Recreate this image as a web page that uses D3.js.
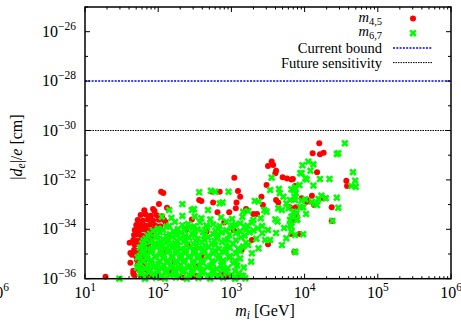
<!DOCTYPE html>
<html>
<head>
<meta charset="utf-8">
<script src="https://cdn.jsdelivr.net/npm/d3@7"></script>
<style>
  body { margin: 0; background: #fff; }
  svg { display: block; font-family: "Liberation Serif", "DejaVu Serif", serif; }
</style>
</head>
<body>
<svg id="chart" width="461" height="322"></svg>
<script>
// --- data: [log10(m_i / GeV), log10(|d_e|/e / cm)] ---
const m45Points = [
  [1.28,-35.92],
  // dense red clump around 50-100 GeV
  [1.76,-33.42],[1.83,-33.40],[1.90,-33.45],[1.98,-33.43],[2.05,-33.47],
  [1.72,-33.62],[1.79,-33.65],[1.86,-33.60],[1.93,-33.64],[2.01,-33.61],[2.10,-33.70],
  [1.70,-33.83],[1.76,-33.80],[1.83,-33.86],[1.89,-33.82],[1.96,-33.85],[2.03,-33.88],
  [1.68,-34.03],[1.74,-34.06],[1.81,-34.01],[1.87,-34.05],[1.93,-34.02],
  [1.67,-34.23],[1.72,-34.21],[1.78,-34.26],[1.85,-34.22],[1.91,-34.25],
  [1.66,-34.43],[1.71,-34.46],[1.77,-34.41],[1.82,-34.45],[1.89,-34.42],
  [1.68,-34.64],[1.74,-34.61],[1.79,-34.66],[1.86,-34.62],
  [1.67,-34.84],[1.72,-34.87],[1.78,-34.82],[1.83,-34.86],
  [1.70,-35.04],[1.75,-35.07],[1.81,-35.02],
  [1.71,-35.24],[1.77,-35.27],[1.82,-35.22],
  [1.72,-35.45],[1.79,-35.48],
  [1.74,-35.65],[1.81,-35.62],[1.86,-35.67],
  [1.76,-35.89],[1.84,-35.92],[1.90,-35.88],
  [1.61,-34.54],[1.64,-35.03],[1.70,-35.11],[1.62,-35.35],[1.66,-35.68],[1.67,-35.85],
  [1.62,-34.96],[1.66,-35.78],
  [1.74,-33.95],[1.78,-33.91],[2.08,-33.62],
  [2.04,-32.48],[2.07,-32.53],[2.01,-32.98],[1.81,-33.23],[1.93,-33.18],[1.95,-33.26],[2.12,-33.13],
  // red hidden in the green cloud
  [2.05,-34.90],[2.22,-35.30],[2.40,-34.60],[2.15,-35.70],[2.33,-35.95],[2.52,-35.50],[2.63,-34.95],
  [2.02,-35.95],[2.45,-35.92],[2.66,-34.10],[2.38,-34.02],[2.84,-35.88],[2.95,-35.90],[2.12,-34.30],
  [2.53,-35.89],[2.87,-35.85],[2.98,-35.89],
  // scattered upper region
  [3.55,-31.26],[3.57,-31.40],[3.61,-31.63],[3.60,-31.73],[3.50,-31.44],[3.04,-31.91],
  [3.70,-31.89],[3.76,-31.94],[3.82,-31.98],[3.48,-32.21],[2.56,-32.81],[2.59,-32.85],
  [2.84,-32.48],[2.74,-32.48],[3.09,-32.45],[3.12,-32.68],[2.75,-32.92],[3.07,-32.91],
  [3.41,-32.68],[3.61,-32.81],[3.64,-32.91],[3.43,-33.02],[3.20,-33.18],[3.06,-33.15],
  [2.81,-33.31],[2.97,-33.31],[3.30,-33.38],[3.35,-33.38],[2.46,-33.60],[3.03,-34.03],
  [3.09,-34.10],[2.90,-33.72],[3.82,-33.62],[3.50,-34.61],[3.28,-34.43],[3.14,-34.84],
  [2.49,-34.84],[2.59,-35.11],[2.87,-35.78],[2.53,-35.88],[3.09,-35.92],
  [4.20,-30.52],[4.11,-30.92],[4.21,-30.96],[4.26,-30.90],[4.17,-31.69],[3.84,-31.96],
  [4.57,-32.03],[4.58,-32.25],[3.87,-32.25],[4.10,-32.64],[3.96,-32.74],[4.03,-32.79],
  [4.03,-32.88],[4.13,-33.02],[3.80,-33.11],[3.88,-33.11],[4.37,-33.11],[4.26,-32.74],
  [3.88,-33.38],[3.86,-33.62],[4.37,-33.66],[3.93,-34.19],[3.82,-34.19],[3.86,-34.91]
];

const m67Points = [
  [1.47,-36.00],
  // dense green cloud
  [2.23,-33.70],[2.41,-33.78],[2.57,-33.72],[2.75,-33.80],[2.93,-33.69],[3.12,-33.76],[3.28,-33.73],
  [2.15,-33.86],[2.33,-33.83],[2.49,-33.88],[2.66,-33.84],[2.84,-33.87],[3.02,-33.85],[3.18,-33.90],
  [2.00,-33.97],[2.11,-33.90],[2.27,-33.99],[2.43,-33.93],[2.54,-34.00],[2.67,-33.92],[2.82,-33.98],[3.00,-33.94],[3.20,-34.01],[3.36,-33.96],
  [1.93,-34.06],[2.07,-34.03],[2.21,-34.08],[2.36,-34.04],[2.50,-34.07],[2.64,-34.02],[2.78,-34.06],[2.93,-34.04],[3.12,-34.08],[3.30,-34.05],
  [1.89,-34.18],[2.02,-34.12],[2.16,-34.20],[2.31,-34.14],[2.46,-34.17],[2.61,-34.11],[2.75,-34.19],[2.87,-34.13],[3.06,-34.16],[3.25,-34.12],
  [1.86,-34.27],[1.99,-34.24],[2.11,-34.28],[2.24,-34.23],[2.37,-34.26],[2.50,-34.22],[2.63,-34.27],[2.81,-34.25],[2.97,-34.23],[3.18,-34.26],
  [1.83,-34.38],[1.96,-34.33],[2.07,-34.40],[2.19,-34.31],[2.30,-34.37],[2.42,-34.34],[2.54,-34.39],[2.68,-34.32],[2.80,-34.36],[2.95,-34.41],[3.13,-34.33],[3.34,-34.38],
  [1.80,-34.46],[1.92,-34.44],[2.03,-34.48],[2.14,-34.43],[2.26,-34.47],[2.38,-34.44],[2.51,-34.46],[2.63,-34.42],[2.77,-34.47],[2.91,-34.45],[3.06,-34.44],
  [1.78,-34.57],[1.89,-34.52],[2.00,-34.58],[2.11,-34.54],[2.23,-34.56],[2.35,-34.51],[2.48,-34.59],[2.60,-34.53],[2.73,-34.57],[2.87,-34.52],[3.02,-34.58],[3.20,-34.54],
  [1.81,-34.67],[1.94,-34.63],[2.05,-34.68],[2.16,-34.64],[2.27,-34.66],[2.39,-34.62],[2.52,-34.67],[2.64,-34.65],[2.78,-34.63],[2.93,-34.68],
  [1.75,-34.74],[1.86,-34.79],[1.98,-34.73],[2.09,-34.78],[2.20,-34.75],[2.31,-34.80],[2.43,-34.74],[2.56,-34.77],[2.69,-34.73],[2.83,-34.79],[2.98,-34.75],[3.09,-34.78],
  [1.80,-34.87],[1.92,-34.84],[2.04,-34.88],[2.15,-34.85],[2.26,-34.86],[2.38,-34.83],[2.50,-34.88],[2.63,-34.85],[2.77,-34.87],[2.92,-34.84],[3.12,-34.88],
  [1.78,-34.98],[1.90,-34.94],[2.03,-34.99],[2.13,-34.93],[2.24,-34.97],[2.37,-34.95],[2.49,-35.00],[2.61,-34.94],[2.75,-34.98],[2.90,-34.93],[3.06,-34.97],
  [1.75,-35.07],[1.84,-35.04],[1.96,-35.08],[2.08,-35.05],[2.19,-35.07],[2.31,-35.03],[2.43,-35.08],[2.55,-35.05],[2.68,-35.07],[2.83,-35.04],[2.98,-35.08],
  [1.72,-35.14],[1.85,-35.19],[1.96,-35.13],[2.07,-35.18],[2.19,-35.15],[2.30,-35.20],[2.42,-35.14],[2.54,-35.17],[2.68,-35.13],[2.82,-35.19],[2.97,-35.15],[3.12,-35.18],
  [1.79,-35.28],[1.91,-35.25],[2.02,-35.29],[2.13,-35.26],[2.25,-35.28],[2.36,-35.24],[2.48,-35.29],[2.60,-35.26],[2.74,-35.28],[2.89,-35.25],[3.05,-35.27],
  [1.76,-35.39],[1.89,-35.34],[2.00,-35.40],[2.12,-35.35],[2.23,-35.38],[2.35,-35.33],[2.48,-35.39],[2.61,-35.36],[2.75,-35.40],[2.88,-35.34],[3.02,-35.38],
  [1.74,-35.48],[1.86,-35.45],[1.97,-35.49],[2.08,-35.46],[2.20,-35.48],[2.31,-35.44],[2.44,-35.49],[2.57,-35.46],[2.71,-35.48],[2.86,-35.45],[3.08,-35.47],
  [1.71,-35.55],[1.83,-35.60],[1.94,-35.54],[2.05,-35.59],[2.18,-35.56],[2.28,-35.61],[2.41,-35.55],[2.53,-35.58],[2.67,-35.54],[2.80,-35.60],[2.95,-35.57],[3.17,-35.55],
  [1.77,-35.68],[1.89,-35.65],[2.00,-35.69],[2.11,-35.66],[2.23,-35.68],[2.34,-35.64],[2.47,-35.69],[2.60,-35.66],[2.74,-35.68],[2.88,-35.65],[3.05,-35.69],
  [1.75,-35.79],[1.87,-35.74],[1.98,-35.80],[2.11,-35.75],[2.22,-35.78],[2.34,-35.73],[2.46,-35.79],[2.60,-35.76],[2.75,-35.80],[2.93,-35.74],[3.10,-35.78],
  [1.80,-35.88],[1.92,-35.85],[2.04,-35.89],[2.16,-35.86],[2.29,-35.88],[2.42,-35.84],[2.57,-35.89],[2.68,-35.86],[2.82,-35.88],[3.00,-35.85],[3.14,-35.88],
  [1.82,-36.00],[1.97,-35.96],[2.09,-35.99],[2.24,-35.95],[2.39,-36.00],[2.55,-35.97],[2.71,-35.99],[2.89,-35.96],[3.05,-36.00],[3.19,-35.98],
  [2.59,-33.55],[2.71,-33.60],[2.86,-33.52],[3.01,-33.58],[3.15,-33.50],[3.30,-33.62],[3.40,-33.55],[2.50,-33.48],[3.22,-33.85],[3.05,-33.82],
  // upper-left stragglers
  [2.33,-32.98],[2.46,-33.22],[2.15,-33.22],[2.05,-33.49],[2.18,-33.54],[2.33,-33.46],
  // scattered heavy-mass region
  [3.94,-31.73],[3.55,-31.91],[3.53,-32.41],[3.65,-32.37],[2.56,-32.50],[2.72,-32.44],[2.78,-32.48],
  [2.96,-32.48],[2.49,-33.18],[2.68,-33.22],[2.88,-32.91],[2.84,-32.95],[3.16,-33.29],[3.23,-33.26],
  [3.32,-32.85],[3.37,-32.88],[3.45,-33.22],[3.48,-33.29],[3.75,-32.95],[3.80,-32.81],[3.82,-32.38],
  [3.88,-32.54],[3.66,-32.54],[3.71,-32.68],[3.64,-33.15],[3.69,-33.22],[3.78,-33.15],[3.85,-33.29],
  [3.89,-33.35],[3.60,-33.60],[3.63,-33.69],[3.80,-33.62],[3.89,-33.62],[3.53,-34.43],[3.46,-34.43],
  [3.69,-34.64],[3.75,-34.36],[3.87,-34.91],[3.28,-34.97],[3.27,-35.31],[3.37,-34.77],[3.23,-34.64],
  [3.16,-34.70],[3.05,-35.92],[3.16,-35.89],
  [3.42,-33.87],[3.50,-34.03],[3.61,-34.15],[3.72,-33.95],[3.42,-34.15],
  [4.55,-30.52],[4.46,-30.92],[4.44,-30.95],[4.05,-31.26],[4.12,-31.37],[3.97,-31.41],[4.08,-31.63],
  [3.96,-31.73],[4.01,-31.94],[4.03,-31.98],[4.21,-31.96],[4.34,-31.96],[4.66,-31.69],[4.69,-32.03],
  [4.64,-32.25],[4.70,-32.28],[4.12,-32.23],[3.93,-32.21],[3.87,-32.30],[3.85,-32.41],[4.44,-32.72],
  [4.23,-32.64],[4.29,-32.74],[4.19,-32.77],[3.86,-32.68],[3.87,-32.81],[3.96,-32.84],[4.01,-32.79],
  [4.10,-32.88],[4.14,-32.95],[4.17,-33.02],[3.94,-33.11],[3.98,-33.11],[4.46,-33.13],[4.02,-33.38],
  [3.82,-33.49],[3.90,-33.60],[4.38,-33.66],[3.80,-33.83],[3.82,-33.89],[3.82,-34.10],[3.87,-34.23],
  [3.98,-34.20],[3.87,-34.92]
];

const currentBound = 1e-28;
const futureSensitivity = 1e-30;

const xDomain = [1e1, 1e6];
const yDomain = [1e-36, 1e-25];
const xTickExps = [1, 2, 3, 4, 5, 6];
const yTickExps = [-36, -35, -34, -33, -32, -31, -30, -29, -28, -27, -26, -25];
const yLabelExps = [-36, -34, -32, -30, -28, -26];

const legendLabels = ["m45", "m67", "Current bound", "Future sensitivity"];

// --- layout ---
const svg = d3.select("#chart");
const margin = { left: 85, right: 10, top: 7, bottom: 43.3 };
const W = 461, H = 322;
const x = d3.scaleLog().domain(xDomain).range([margin.left, W - margin.right]);
const y = d3.scaleLog().domain(yDomain).range([H - margin.bottom, margin.top]);
const x0 = x.range()[0], x1 = x.range()[1];
const y0 = y.range()[0], y1 = y.range()[1];

const fs = 16, fsSmall = 11.5;
const fsLeg = 14.5, fsLegSmall = 10.5;

// superscript helper for 10^n labels
function powLabel(sel, n) {
  sel.append("tspan").text("10");
  sel.append("tspan").attr("dy", -7).attr("font-size", fsSmall).text(n < 0 ? "\u2212" + (-n) : n);
}

// --- reference lines ---
svg.append("line")
  .attr("x1", x0).attr("x2", x1)
  .attr("y1", y(currentBound)).attr("y2", y(currentBound))
  .attr("stroke", "#0000ff").attr("stroke-width", 1.5).attr("stroke-dasharray", "2,1.3");
svg.append("line")
  .attr("x1", x0).attr("x2", x1)
  .attr("y1", y(futureSensitivity)).attr("y2", y(futureSensitivity))
  .attr("stroke", "#000").attr("stroke-width", 1).attr("stroke-dasharray", "1.5,1");

// --- scatter ---
const toX = d => x(Math.pow(10, d[0]));
const toY = d => y(Math.pow(10, d[1]));

svg.append("g").selectAll("circle")
  .data(m45Points)
  .enter().append("circle")
  .attr("cx", toX).attr("cy", toY)
  .attr("r", 3)
  .attr("fill", "#ff0000");

const cross = "M-2.8,-2.8L2.8,2.8M-2.8,2.8L2.8,-2.8";
svg.append("g").selectAll("path")
  .data(m67Points)
  .enter().append("path")
  .attr("transform", d => `translate(${toX(d)},${toY(d)})`)
  .attr("d", cross)
  .attr("stroke", "#00ff00").attr("stroke-width", 2.6).attr("fill", "none");

// --- frame & ticks ---
const axes = svg.append("g").attr("stroke", "#000");
axes.append("rect")
  .attr("x", x0).attr("y", y1).attr("width", x1 - x0).attr("height", y0 - y1)
  .attr("fill", "none").attr("stroke-width", 1.5);

const xMinor = [];
xTickExps.slice(0, -1).forEach(e => {
  for (let k = 2; k <= 9; k++) xMinor.push(k * Math.pow(10, e));
});
xMinor.forEach(v => {
  axes.append("line").attr("x1", x(v)).attr("x2", x(v)).attr("y1", y0).attr("y2", y0 - 2.5).attr("stroke-width", 1);
  axes.append("line").attr("x1", x(v)).attr("x2", x(v)).attr("y1", y1).attr("y2", y1 + 2.5).attr("stroke-width", 1);
});
xTickExps.forEach(e => {
  const v = Math.pow(10, e);
  axes.append("line").attr("x1", x(v)).attr("x2", x(v)).attr("y1", y0).attr("y2", y0 - 5).attr("stroke-width", 1);
  axes.append("line").attr("x1", x(v)).attr("x2", x(v)).attr("y1", y1).attr("y2", y1 + 5).attr("stroke-width", 1);
});
yTickExps.forEach(e => {
  const v = Math.pow(10, e);
  const len = yLabelExps.includes(e) ? 5 : 3;
  axes.append("line").attr("x1", x0).attr("x2", x0 + len).attr("y1", y(v)).attr("y2", y(v)).attr("stroke-width", 1);
  axes.append("line").attr("x1", x1).attr("x2", x1 - len).attr("y1", y(v)).attr("y2", y(v)).attr("stroke-width", 1);
});

// --- tick labels ---
xTickExps.forEach(e => {
  const t = svg.append("text")
    .attr("x", x(Math.pow(10, e))).attr("y", y0 + 19)
    .attr("text-anchor", "middle").attr("font-size", fs).attr("fill", "#000");
  powLabel(t, e);
});
// stray copy of the last x label that the original shows at the far left edge
const stray = svg.append("text")
  .attr("x", x(1e6) - 453).attr("y", y0 + 19)
  .attr("text-anchor", "middle").attr("font-size", fs).attr("fill", "#000");
powLabel(stray, 6);

yLabelExps.forEach(e => {
  const t = svg.append("text")
    .attr("x", x0 - 9).attr("y", y(Math.pow(10, e)) + 5)
    .attr("text-anchor", "end").attr("font-size", fs).attr("fill", "#000");
  powLabel(t, e);
});

// --- axis titles ---
const xt = svg.append("text")
  .attr("x", 265).attr("y", 316).attr("text-anchor", "middle")
  .attr("font-size", fs).attr("fill", "#000");
xt.append("tspan").attr("font-style", "italic").text("m");
xt.append("tspan").attr("font-style", "italic").attr("font-size", fsSmall).attr("dy", 3).text("i");
xt.append("tspan").attr("dy", -3).text(" [GeV]");

const yt = svg.append("text")
  .attr("transform", "translate(22,147) rotate(-90)")
  .attr("text-anchor", "middle").attr("font-size", fs).attr("fill", "#000");
yt.append("tspan").text("|");
yt.append("tspan").attr("font-style", "italic").text("d");
yt.append("tspan").attr("font-style", "italic").attr("font-size", fsSmall).attr("dy", 3).text("e");
yt.append("tspan").attr("dy", -3).text("|/");
yt.append("tspan").attr("font-style", "italic").text("e");
yt.append("tspan").text(" [cm]");

// --- legend ---
const legX = 382, symX = 413, lineX0 = 393, lineX1 = 432;
const rowY = i => 18.5 + i * 14.7;
legendLabels.forEach((lab, i) => {
  const t = svg.append("text")
    .attr("x", legX).attr("y", rowY(i) + 5)
    .attr("text-anchor", "end").attr("font-size", fsLeg).attr("fill", "#000");
  if (i < 2) {
    t.attr("y", rowY(i) + 3);
    t.append("tspan").attr("font-style", "italic").text("m");
    t.append("tspan").attr("font-size", fsLegSmall).attr("dy", 3).text(i === 0 ? "4,5" : "6,7");
  } else {
    t.text(lab);
  }
});
svg.append("circle").attr("cx", symX).attr("cy", rowY(0)).attr("r", 3).attr("fill", "#ff0000");
svg.append("path").attr("transform", `translate(${symX},${rowY(1)})`).attr("d", cross)
  .attr("stroke", "#00ff00").attr("stroke-width", 2.6).attr("fill", "none");
svg.append("line").attr("x1", lineX0).attr("x2", lineX1).attr("y1", rowY(2)).attr("y2", rowY(2))
  .attr("stroke", "#0000ff").attr("stroke-width", 1.5).attr("stroke-dasharray", "2,1.3");
svg.append("line").attr("x1", lineX0).attr("x2", lineX1).attr("y1", rowY(3)).attr("y2", rowY(3))
  .attr("stroke", "#000").attr("stroke-width", 1).attr("stroke-dasharray", "1.5,1");
</script>
</body>
</html>
